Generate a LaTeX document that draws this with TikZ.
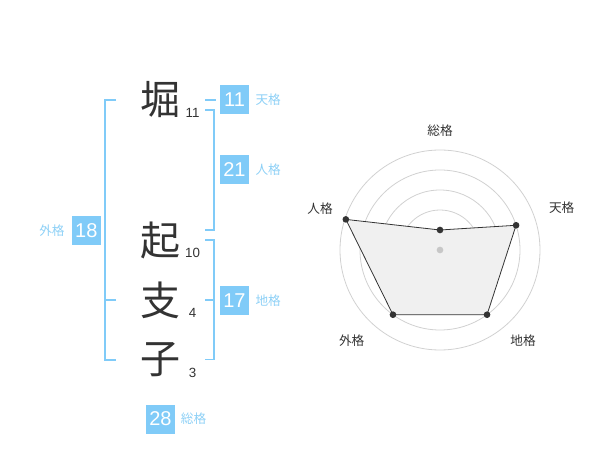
\documentclass[tikz,border=0pt]{standalone}
\usepackage{fontspec}
\setmainfont{Liberation Sans}
\newfontfamily\jpfont{Noto Sans CJK JP}
\usetikzlibrary{calc,positioning}
\definecolor{kakublue}{HTML}{80CBF8}
\definecolor{kakulabel}{HTML}{8DD0F6}
\definecolor{kakutext}{HTML}{333333}
\tikzset{%
	kanji/.style    = {font=\jpfont\fontsize{30}{30}\selectfont, text=kakutext, inner sep=0pt},
	strokes/.style  = {font=\fontsize{10}{10}\selectfont, text=kakutext, inner sep=0pt},
	kakubox/.style  = {fill=kakublue, text=white, minimum size=21.75pt, inner sep=0pt, font=\fontsize{15}{15}\selectfont},
	kakuname/.style = {font=\jpfont\fontsize{9.5}{9.5}\selectfont, text=kakulabel, inner sep=0pt},
	bracket/.style  = {draw=kakublue, line width=1.4pt},
	ring/.style     = {draw=black!18, line width=0.6pt},
	radar/.style    = {draw=kakutext, fill=black!6, line width=0.6pt},
	axisname/.style = {font=\jpfont\fontsize{9.5}{9.5}\selectfont, text=kakutext, inner sep=0pt},
	dot/.style      = {circle, fill=kakutext, inner sep=0pt, minimum size=5pt},
}

\begin{document}
\begin{tikzpicture}[x=0.75pt,y=-0.75pt]
	\useasboundingbox (0,0) rectangle (600,470);
	
	% name and stroke counts
	\foreach \ch/\n/\y [count=\i] in {堀/11/100,起/10/240,支/4/300,子/3/360} {
		\node[kanji] (k\i) at (160,\y) {\ch};
		\node[strokes] (s\i) at ($(k\i)+(32.5,13)$) {\n};
	}
	
	% brackets
	\coordinate (gaiT) at (116,100);
	\coordinate (gaiM) at (116,300);
	\coordinate (gaiB) at (116,360);
	\draw[bracket] (gaiT) -- ++(-11,0) |- (gaiB);
	\draw[bracket] (gaiM) -- ++(-11,0);
	
	\coordinate (tenL) at (205,100);
	\coordinate (jinT) at (205,110);
	\coordinate (jinB) at (205,230);
	\coordinate (chiT) at (205,240);
	\coordinate (chiM) at (205,300);
	\coordinate (chiB) at (205,359.5);
	\draw[bracket] (tenL) -- ++(10.5,0);
	\draw[bracket] (jinT) -- ++(9,0) |- (jinB);
	\draw[bracket] (chiT) -- ++(9,0) |- (chiB);
	\draw[bracket] (chiM) -- ++(9,0);
	
	% scores
	\node[kakubox] (ten) at (234.5,100) {11};
	\node[kakubox] (jin) at (234.5,170) {21};
	\node[kakubox] (chi) at (234.5,300.5) {17};
	\node[kakubox] (gai) at (86.3,230.5) {18};
	\node[kakubox] (sou) at (160.5,419) {28};
	\node[kakuname, right=4.5pt of ten] (tenN) {天格};
	\node[kakuname, right=4.5pt of jin] (jinN) {人格};
	\node[kakuname, right=4.5pt of chi] (chiN) {地格};
	\node[kakuname, left=5pt of gai] (gaiN) {外格};
	\node[kakuname, right=4pt of sou] (souN) {総格};
	
	% radar chart
	\begin{scope}[shift={(440,250)},y=0.75pt]
		\foreach \r in {20,40,...,100} \draw[ring] (0,0) circle[radius=\r];
		\foreach \a/\r [count=\i] in {90/20,18/80,-54/80,-126/80,162/99} \coordinate (v\i) at (\a:\r);
		\filldraw[radar] (v1) -- (v2) -- (v3) -- (v4) -- (v5) -- cycle;
		\node[circle, fill=black!22, inner sep=0pt, minimum size=5pt] (c) at (0,0) {};
		\foreach \i in {1,...,5} \node[dot] (d\i) at (v\i) {};
		\node[axisname] (a1) at (0,119) {総格};
		\node[axisname] (a2) at (121.7,42) {天格};
		\node[axisname] (a3) at (83,-91) {地格};
		\node[axisname] (a4) at (-88.3,-91) {外格};
		\node[axisname] (a5) at (-120,41) {人格};
	\end{scope}
\end{tikzpicture}
\end{document}
